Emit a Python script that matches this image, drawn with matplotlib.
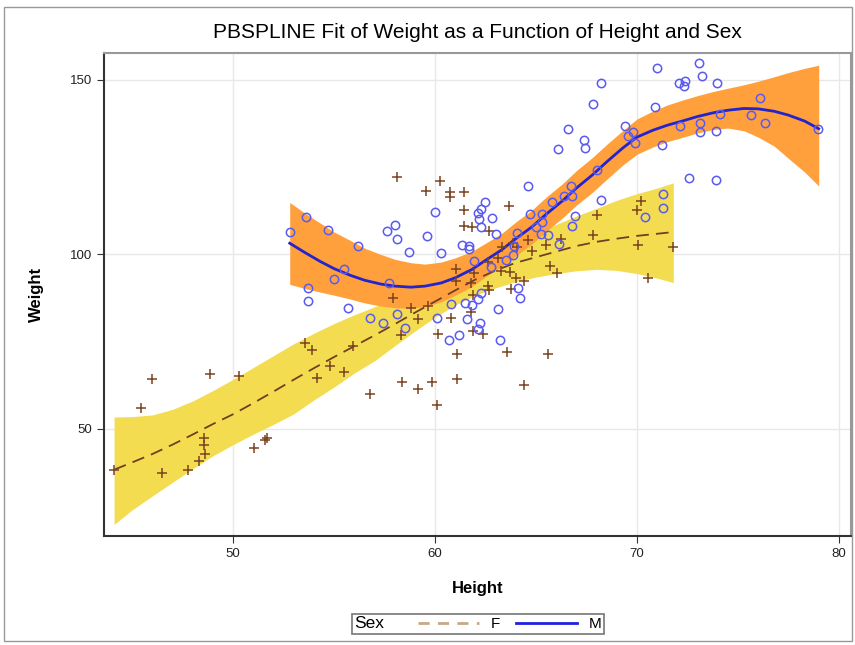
import matplotlib
matplotlib.use('Agg')
import matplotlib.pyplot as plt
from matplotlib.lines import Line2D
from matplotlib.patches import Rectangle
from matplotlib.offsetbox import HPacker

plt.rcParams['font.family'] = ['Liberation Sans', 'DejaVu Sans']

# male observations (circles)
m_height = [52.8, 53.6, 53.7, 53.7, 54.7, 56.2, 55.5, 55.0, 55.7, 57.7,
            57.6, 58.0, 58.1, 58.7, 59.6, 60.0, 60.3, 56.8, 57.4, 58.1,
            58.5, 60.1, 60.7, 61.2, 60.8, 61.5, 61.85, 62.1, 62.25, 61.6,
            62.2, 62.1, 63.1, 63.2, 64.2, 64.1, 61.35, 61.7, 61.7, 61.95,
            62.45, 62.25, 62.1, 62.15, 62.25, 62.8, 63.0, 62.75, 63.5, 63.85,
            63.9, 64.05, 64.7, 65.3, 65.3, 65.0, 65.25, 65.6, 65.8, 66.4,
            66.75, 66.8, 66.95, 66.8, 66.15, 68.2, 68.0, 64.6, 70.97, 73.06,
            73.24, 68.2, 72.1, 72.4, 72.35, 73.98, 67.84, 70.9, 76.07, 66.57,
            66.08, 67.39, 67.42, 69.41, 69.82, 69.53, 69.9, 71.23, 72.15, 73.14,
            73.14, 73.92, 74.09, 75.64, 76.32, 78.98, 72.56, 73.9, 71.3, 71.27,
            70.4]
m_weight = [106.4, 110.6, 90.5, 86.7, 106.9, 102.3, 95.9, 92.8, 84.7, 91.7,
            106.7, 108.5, 104.3, 100.7, 105.2, 112.2, 100.4, 81.7, 80.4, 83.0,
            79.0, 81.9, 75.5, 77.0, 85.7, 86.2, 85.6, 87.1, 88.8, 81.5,
            80.4, 78.5, 84.4, 75.4, 87.4, 90.3, 102.8, 102.4, 101.4, 98.1,
            115.0, 113.0, 111.8, 110.2, 107.7, 110.3, 105.7, 96.4, 98.4, 99.9,
            102.4, 106.2, 111.7, 111.7, 109.3, 107.9, 105.8, 105.5, 115.0, 116.8,
            119.6, 116.8, 111.0, 108.1, 103.1, 115.5, 124.2, 119.6, 153.5, 154.8,
            151.1, 149.1, 149.1, 149.7, 148.3, 149.0, 143.0, 142.1, 144.9, 135.8,
            130.2, 132.8, 130.4, 136.9, 135.0, 133.9, 131.9, 131.4, 136.7, 137.7,
            135.0, 135.4, 140.2, 139.8, 137.7, 136.0, 122.0, 121.2, 117.3, 113.4,
            110.8]

# female observations (crosses)
f_height = [44.09, 45.43, 45.99, 46.49, 47.78, 48.29, 48.55, 48.55, 48.6, 48.87,
            50.29, 51.05, 51.55, 51.68, 53.56, 53.89, 54.14, 54.78, 55.49, 55.94,
            56.8, 57.92, 58.29, 58.37, 58.83, 59.16, 59.13, 59.67, 59.87, 60.09,
            60.12, 60.77, 61.07, 61.1, 61.03, 61.76, 61.89, 62.36, 63.55, 65.57,
            64.41, 58.13, 60.24, 59.57, 60.72, 60.72, 61.43, 61.43, 61.42, 61.83,
            62.68, 63.67, 63.31, 64.62, 64.04, 64.8, 65.49, 66.24, 67.84, 68.0,
            65.69, 66.06, 61.03, 61.92, 61.77, 62.63, 63.13, 63.25, 63.71, 62.63,
            62.68, 64.0, 64.4, 63.74, 61.89, 63.87, 70.19, 69.99, 70.03, 71.8,
            70.56]
f_weight = [38.3, 55.9, 64.2, 37.4, 38.2, 40.8, 47.5, 45.4, 42.9, 65.6,
            65.1, 44.4, 46.8, 47.3, 74.7, 72.6, 64.7, 67.9, 66.4, 73.6,
            60.0, 87.6, 76.9, 63.5, 84.7, 81.4, 61.5, 85.2, 63.4, 56.7,
            77.1, 81.9, 64.4, 71.5, 92.3, 83.5, 77.9, 77.3, 72.0, 71.5,
            62.5, 122.2, 120.9, 118.1, 117.8, 116.5, 117.9, 112.6, 108.2, 107.8,
            106.8, 114.0, 102.2, 104.0, 102.2, 101.1, 102.7, 104.5, 105.6, 111.2,
            96.8, 94.8, 95.9, 94.8, 91.9, 97.8, 99.1, 95.2, 94.9, 90.9,
            89.8, 93.3, 92.3, 90.2, 88.3, 103.4, 115.3, 112.7, 102.6, 102.2,
            93.3]

# penalized spline fit and 95% confidence limits for M
m_fit_x = [52.8, 53.5, 54.3, 55.0, 55.8, 56.5, 57.3, 58.0, 58.8, 59.5,
           60.3, 61.0, 61.8, 62.5, 63.3, 64.0, 64.8, 65.5, 66.3, 67.0,
           67.8, 68.5, 69.3, 70.0, 70.8, 71.5, 72.3, 73.0, 73.8, 74.5,
           75.3, 76.0, 76.8, 77.5, 78.3, 79.0]
m_fit_y = [103.2, 100.7, 98.0, 95.9, 94.0, 92.6, 91.5, 90.9, 90.6, 90.9,
           91.8, 93.3, 95.6, 98.3, 101.3, 104.5, 107.9, 111.5, 115.3, 119.0,
           122.8, 126.5, 130.5, 133.6, 135.6, 137.0, 138.3, 139.5, 140.6, 141.3,
           141.8, 141.7, 141.0, 139.9, 138.2, 136.0]
m_upper = [114.9, 112.0, 109.0, 106.4, 104.0, 101.8, 100.0, 98.6, 97.6, 97.2,
           97.8, 99.0, 100.8, 103.2, 106.0, 109.3, 112.7, 116.4, 120.2, 124.0,
           127.8, 131.5, 135.5, 138.8, 141.1, 142.8, 144.3, 145.5, 146.7, 147.6,
           148.6, 149.6, 150.9, 152.1, 153.3, 154.2]
m_lower = [91.4, 90.3, 89.2, 88.3, 87.2, 86.1, 85.2, 84.7, 84.6, 85.0,
           86.4, 88.3, 90.7, 93.6, 96.5, 99.6, 103.0, 106.6, 110.4, 114.1,
           117.8, 121.5, 125.6, 128.7, 130.8, 132.3, 133.6, 134.8, 135.8, 136.2,
           135.4, 133.6, 131.0, 127.5, 123.6, 119.6]

# same for F
f_fit_x = [44.1, 45.0, 46.0, 47.0, 48.0, 49.0, 50.0, 51.0, 52.0, 53.0,
           54.0, 55.0, 56.0, 57.0, 58.0, 59.0, 60.0, 61.0, 62.0, 63.0,
           64.0, 65.0, 66.0, 67.0, 68.0, 69.0, 70.0, 71.0, 71.8]
f_fit_y = [38.3, 40.4, 42.8, 45.5, 48.4, 51.4, 54.2, 57.4, 60.7, 64.1,
           67.4, 70.6, 73.7, 76.8, 80.0, 83.3, 86.5, 89.7, 92.8, 95.4,
           97.6, 99.2, 100.8, 102.4, 103.6, 104.5, 105.3, 105.9, 106.4]
f_upper = [53.4, 53.5, 54.0, 55.6, 58.0, 61.0, 64.2, 67.6, 71.0, 74.4,
           77.4, 80.2, 82.7, 85.0, 87.3, 89.6, 92.0, 94.5, 97.3, 100.4,
           103.3, 106.0, 108.6, 111.0, 113.2, 115.5, 117.4, 119.0, 120.5]
f_lower = [22.6, 26.8, 30.8, 34.7, 38.6, 42.3, 45.5, 48.5, 51.3, 54.3,
           58.3, 62.0, 66.0, 69.5, 73.8, 78.0, 82.0, 85.5, 88.3, 90.4,
           92.2, 93.5, 94.5, 95.3, 95.7, 95.4, 94.5, 93.2, 91.9]

fig = plt.figure(figsize=(8.55, 6.45), dpi=100)
ax = fig.add_axes([104 / 855, 1 - 536 / 645, 747 / 855, 483 / 645])

ax.fill_between(f_fit_x, f_lower, f_upper, color='#f4dc50', lw=0, zorder=1)
ax.fill_between(m_fit_x, m_lower, m_upper, color='#ffa03c', lw=0, zorder=2)
ax.plot(f_fit_x, f_fit_y, color='#6e4020', lw=1.3, dashes=(7, 4), zorder=4)
ax.plot(m_fit_x, m_fit_y, color='#2424cc', lw=2, zorder=4)
ax.plot(f_height, f_weight, ls='none', marker='+', ms=7, mew=1.1,
        color='#7a4420', zorder=5)
ax.plot(m_height, m_weight, ls='none', marker='o', ms=6, mew=1.1,
        mfc='none', mec='#5a5af0', zorder=5)

ax.set_xlim(43.6, 80.6)
ax.set_ylim(19.3, 157.7)
ax.set_xticks([50, 60, 70, 80])
ax.set_yticks([50, 100, 150])
ax.grid(True, color='#e8e8e8', lw=1)
ax.set_axisbelow(True)
ax.tick_params(labelsize=9.5, length=5, color='#333333', labelcolor='#222222')
for s in ['left', 'bottom']:
    ax.spines[s].set_color('#333333')
    ax.spines[s].set_linewidth(1.5)
for s in ['top', 'right']:
    ax.spines[s].set_color('#999999')
    ax.spines[s].set_linewidth(1.5)

ax.set_xlabel('Height', fontsize=12, fontweight='bold', labelpad=15)
ax.set_ylabel('Weight', fontsize=12, fontweight='bold', labelpad=19)
ax.set_title('PBSPLINE Fit of Weight as a Function of Height and Sex',
             fontsize=15, pad=11)

hF = Line2D([], [], color='#c8a888', lw=2, dashes=(4, 3))
hM = Line2D([], [], color='#2020e0', lw=2)
leg = fig.legend([hF, hM], ['F', 'M'], title='Sex', ncol=2, loc='center',
                 bbox_to_anchor=(478 / 855, 1 - 624 / 645), fontsize=11,
                 title_fontsize=12.5, frameon=True, fancybox=False,
                 edgecolor='#555555', handlelength=4.0, handletextpad=0.8,
                 columnspacing=1.0, borderpad=0.15)
leg.get_frame().set_linewidth(1.2)
title_box, handle_box = leg._legend_box.get_children()
new_box = HPacker(pad=leg._legend_box.pad, sep=24,
                  children=[title_box, handle_box], align='center')
new_box.set_figure(fig)
new_box.set_offset(leg._findoffset)
leg._legend_box = new_box

fig.patches.append(Rectangle((4 / 855, 4 / 645), 848 / 855, 634 / 645,
                             transform=fig.transFigure, fill=False,
                             edgecolor='#999999', lw=1))

fig.savefig('out.png', dpi=100)
